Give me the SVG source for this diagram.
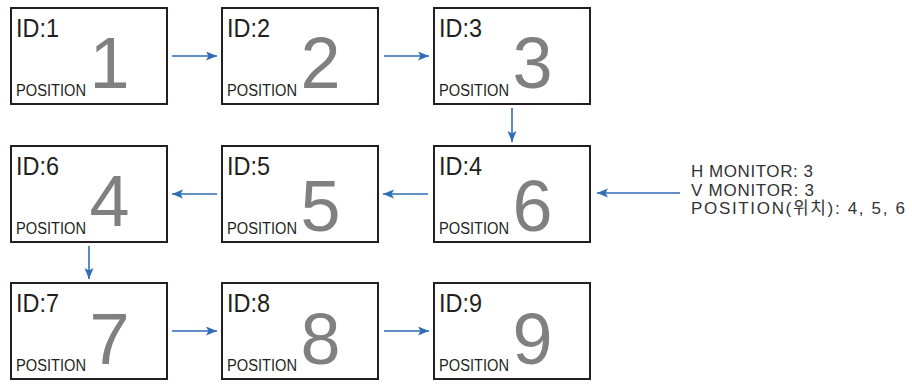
<svg xmlns="http://www.w3.org/2000/svg" width="912" height="386" viewBox="0 0 912 386">
<style>
.box{fill:#fff;stroke:#231f20;stroke-width:2}
.id{font-family:"Liberation Sans",Arial,sans-serif;font-size:25px;fill:#231f20}
.pos{font-family:"Liberation Sans",Arial,sans-serif;font-size:16px;fill:#231f20}
.num{font-family:"Liberation Sans",Arial,sans-serif;font-size:72px;fill:#808080;text-anchor:middle}
.conn{stroke:#2f6db4;stroke-width:1.6;fill:none;marker-end:url(#ah)}
.info{font-family:"Liberation Sans","Noto Sans CJK KR",Arial,sans-serif;font-size:17px;fill:#333333}
</style>
<defs>
<marker id="ah" markerUnits="userSpaceOnUse" markerWidth="12" markerHeight="10" refX="11" refY="4.5" orient="auto">
<path d="M0,0 L11,4.5 L0,9 L2.5,4.5 z" fill="#2f6db4"/>
</marker>
</defs>
<g id="node-id1">
<rect class="box" x="11" y="8" width="156" height="96"/>
<text class="id" x="16" y="37" textLength="43" lengthAdjust="spacingAndGlyphs">ID:1</text>
<text class="pos" x="16" y="96" textLength="70" lengthAdjust="spacingAndGlyphs">POSITION</text>
<text class="num" x="109.5" y="88">1</text>
</g>
<g id="node-id2">
<rect class="box" x="222" y="8" width="156" height="96"/>
<text class="id" x="227" y="37" textLength="43" lengthAdjust="spacingAndGlyphs">ID:2</text>
<text class="pos" x="227" y="96" textLength="70" lengthAdjust="spacingAndGlyphs">POSITION</text>
<text class="num" x="320.5" y="88">2</text>
</g>
<g id="node-id3">
<rect class="box" x="434" y="8" width="156" height="96"/>
<text class="id" x="439" y="37" textLength="43" lengthAdjust="spacingAndGlyphs">ID:3</text>
<text class="pos" x="439" y="96" textLength="70" lengthAdjust="spacingAndGlyphs">POSITION</text>
<text class="num" x="532.5" y="88">3</text>
</g>
<g id="node-id6">
<rect class="box" x="11" y="146" width="156" height="96"/>
<text class="id" x="16" y="175" textLength="43" lengthAdjust="spacingAndGlyphs">ID:6</text>
<text class="pos" x="16" y="234" textLength="70" lengthAdjust="spacingAndGlyphs">POSITION</text>
<text class="num" x="109.5" y="226">4</text>
</g>
<g id="node-id5">
<rect class="box" x="222" y="146" width="156" height="96"/>
<text class="id" x="227" y="175" textLength="43" lengthAdjust="spacingAndGlyphs">ID:5</text>
<text class="pos" x="227" y="234" textLength="70" lengthAdjust="spacingAndGlyphs">POSITION</text>
<text class="num" x="320.5" y="231">5</text>
</g>
<g id="node-id4">
<rect class="box" x="434" y="146" width="156" height="96"/>
<text class="id" x="439" y="175" textLength="43" lengthAdjust="spacingAndGlyphs">ID:4</text>
<text class="pos" x="439" y="234" textLength="70" lengthAdjust="spacingAndGlyphs">POSITION</text>
<text class="num" x="532.5" y="231">6</text>
</g>
<g id="node-id7">
<rect class="box" x="11" y="283" width="156" height="96"/>
<text class="id" x="16" y="312" textLength="43" lengthAdjust="spacingAndGlyphs">ID:7</text>
<text class="pos" x="16" y="371" textLength="70" lengthAdjust="spacingAndGlyphs">POSITION</text>
<text class="num" x="109.5" y="364">7</text>
</g>
<g id="node-id8">
<rect class="box" x="222" y="283" width="156" height="96"/>
<text class="id" x="227" y="312" textLength="43" lengthAdjust="spacingAndGlyphs">ID:8</text>
<text class="pos" x="227" y="371" textLength="70" lengthAdjust="spacingAndGlyphs">POSITION</text>
<text class="num" x="320.5" y="364">8</text>
</g>
<g id="node-id9">
<rect class="box" x="434" y="283" width="156" height="96"/>
<text class="id" x="439" y="312" textLength="43" lengthAdjust="spacingAndGlyphs">ID:9</text>
<text class="pos" x="439" y="371" textLength="70" lengthAdjust="spacingAndGlyphs">POSITION</text>
<text class="num" x="532.5" y="364">9</text>
</g>
<g id="info">
<text class="info" x="691" y="177" textLength="122" lengthAdjust="spacing">H MONITOR: 3</text>
<text class="info" x="691" y="196" textLength="123" lengthAdjust="spacing">V MONITOR: 3</text>
<text class="info" x="691" y="214" textLength="214" lengthAdjust="spacing">POSITION(위치): 4, 5, 6</text>
</g>
<g id="connectors">
<line class="conn" x1="172" y1="56" x2="217" y2="56"/>
<line class="conn" x1="384" y1="56" x2="429" y2="56"/>
<line class="conn" x1="512" y1="108" x2="512" y2="142"/>
<line class="conn" x1="428" y1="194" x2="383" y2="194"/>
<line class="conn" x1="217" y1="194" x2="172" y2="194"/>
<line class="conn" x1="89" y1="246" x2="89" y2="279"/>
<line class="conn" x1="172" y1="331" x2="217" y2="331"/>
<line class="conn" x1="384" y1="331" x2="429" y2="331"/>
<line class="conn" x1="680" y1="193" x2="597" y2="193"/>
</g>
</svg>
